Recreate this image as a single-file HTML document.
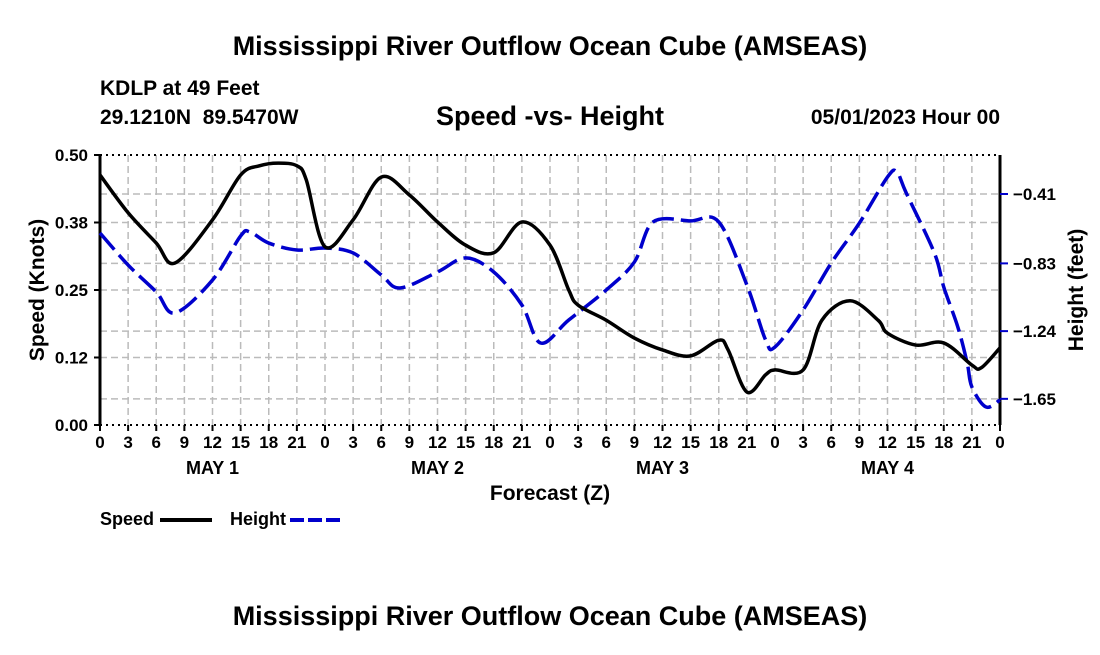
<!DOCTYPE html>
<html><head><meta charset="utf-8"><style>
body{margin:0;background:#fff;}
svg text{font-family:"Liberation Sans",Arial,sans-serif;font-weight:bold;fill:#000;}
</style></head><body>
<svg id="chart" width="1100" height="650" xmlns="http://www.w3.org/2000/svg">
<text x="550" y="55" font-size="27" text-anchor="middle">Mississippi River Outflow Ocean Cube (AMSEAS)</text>
<text x="100" y="95" font-size="21">KDLP at 49 Feet</text>
<text x="100" y="124" font-size="21">29.1210N&#160;&#160;89.5470W</text>
<text x="550" y="125" font-size="27" text-anchor="middle">Speed -vs- Height</text>
<text x="1000" y="124" font-size="21" text-anchor="end">05/01/2023 Hour 00</text>
<g id="grid"></g>
<g id="axes"></g>
<g id="series"></g>
<text x="550" y="500" font-size="21" text-anchor="middle">Forecast (Z)</text>
<text transform="translate(44,290) rotate(-90)" font-size="21" text-anchor="middle">Speed (Knots)</text>
<text transform="translate(1083,290) rotate(-90)" font-size="21" text-anchor="middle">Height (feet)</text>
<g>
<text x="100" y="525" font-size="18">Speed</text>
<line x1="160" y1="520" x2="212" y2="520" stroke="#000" stroke-width="4"/>
<text x="230" y="525" font-size="18">Height</text>
<line x1="290" y1="520" x2="342" y2="520" stroke="#0000cc" stroke-width="4" stroke-dasharray="14,4"/>
</g>
<text x="550" y="625" font-size="27" text-anchor="middle">Mississippi River Outflow Ocean Cube (AMSEAS)</text>
</svg>
<script>
const speedHours=[0,3,6,8,12,15,17,19,21,22,24,27,30,33,36,39,42,45,48,50,51,54,57,60,63,66,67,69,71,72,75,77,80,83,84,87,90,93,94,96];
const speedValues=[.463,.393,.337,.300,.380,.463,.480,.485,.480,.454,.330,.380,.459,.426,.376,.333,.319,.376,.333,.250,.222,.194,.161,.139,.128,.157,.139,.061,.093,.102,.102,.194,.230,.194,.170,.148,.152,.111,.106,.143];
const heightHours=[0,3,6,8,12,15,16,18,21,24,27,30,32,36,39,42,45,47,50,54,57,59,63,66,69,71,72,75,78,81,84,85,86,89,90,91.5,92.5,93,94.5,96];
const heightValues=[-0.646,-0.840,-1.003,-1.130,-0.931,-0.664,-0.640,-0.707,-0.749,-0.737,-0.767,-0.900,-0.979,-0.882,-0.797,-0.882,-1.082,-1.312,-1.173,-0.991,-0.822,-0.579,-0.573,-0.579,-0.961,-1.294,-1.336,-1.112,-0.828,-0.586,-0.307,-0.277,-0.404,-0.767,-0.973,-1.215,-1.433,-1.578,-1.699,-1.657];
const speedTicks=[0,0.125,0.25,0.375,0.5];
const speedTickLabels=["0.00","0.12","0.25","0.38","0.50"];
const heightTicks=[-0.41,-0.83,-1.24,-1.65];
const heightTickLabels=["\u22120.41","\u22120.83","\u22121.24","\u22121.65"];
const hourLabels=["0","3","6","9","12","15","18","21"];
const dayLabels=["MAY 1","MAY 2","MAY 3","MAY 4"];
const X0=100,X1=1000,YT=155,YB=425;
const xs=h=>X0+(X1-X0)*h/96;
const ys=v=>YB-(YB-YT)*v/0.5;
const yh=v=>194+(-0.41-v)*165.2;
const NS="http://www.w3.org/2000/svg";
function mk(tag,attrs,parent){const e=document.createElementNS(NS,tag);for(const k in attrs)e.setAttribute(k,attrs[k]);parent.appendChild(e);return e;}
const grid=document.getElementById('grid'),axes=document.getElementById('axes'),series=document.getElementById('series');
for(let h=3;h<96;h+=3){const l=mk('line',{x1:xs(h),x2:xs(h),y1:YT,y2:YB,stroke:'#bbb','stroke-width':1.5,'stroke-dasharray':'7,4'},grid);

}
const hLines=speedTicks.slice(1,4).map(ys).concat(heightTicks.map(yh));
hLines.forEach(y=>{const l=mk('line',{x1:X0,x2:X1,y1:y,y2:y,stroke:'#bbb','stroke-width':1.5,'stroke-dasharray':'7,4'},grid);

});
[[X0,YT,X1,YT,'2,4'],[X0,YB,X1,YB,'2,4']].forEach(a=>{const l=mk('line',{x1:a[0],y1:a[1],x2:a[2],y2:a[3],stroke:'#000','stroke-width':2,'stroke-dasharray':a[4]},axes);

});
[X0,X1].forEach(x=>{const l=mk('line',{x1:x,y1:YT,x2:x,y2:YB,stroke:'#000','stroke-width':3},axes);

});
speedTicks.forEach((v,i)=>{const y=ys(v);mk('line',{x1:X0-6,x2:X0,y1:y,y2:y,stroke:'#000','stroke-width':2},axes);
const t=mk('text',{x:X0-12,y:y+6,'font-size':17,'text-anchor':'end'},axes);t.textContent=speedTickLabels[i];

});
heightTicks.forEach((v,i)=>{const y=yh(v);mk('line',{x1:X1,x2:X1+8,y1:y,y2:y,stroke:'#0000cc','stroke-width':2},axes);
const t=mk('text',{x:X1+13,y:y+6,'font-size':17},axes);t.textContent=heightTickLabels[i];

});
for(let d=0;d<=4;d++){for(let k=0;k<8;k++){if(d==4&&k>0)break;const h=d*24+k*3;
mk('line',{x1:xs(h),x2:xs(h),y1:YB,y2:YB+6,stroke:'#000','stroke-width':2},axes);
const t=mk('text',{x:xs(h),y:YB+23,'font-size':17,'text-anchor':'middle'},axes);t.textContent=hourLabels[k];

}}
dayLabels.forEach((s,d)=>{const t=mk('text',{x:xs(d*24+12),y:YB+49,'font-size':18,'text-anchor':'middle'},axes);t.textContent=s;

});
function smooth(pts){let d='M'+pts[0][0]+','+pts[0][1];
for(let i=0;i<pts.length-1;i++){const p0=pts[Math.max(i-1,0)],p1=pts[i],p2=pts[i+1],p3=pts[Math.min(i+2,pts.length-1)];
const c1=[p1[0]+(p2[0]-p0[0])/6,p1[1]+(p2[1]-p0[1])/6],c2=[p2[0]-(p3[0]-p1[0])/6,p2[1]-(p3[1]-p1[1])/6];
d+=' C'+c1[0]+','+c1[1]+' '+c2[0]+','+c2[1]+' '+p2[0]+','+p2[1];}return d;}
const hp=mk('path',{d:smooth(heightHours.map((h,i)=>[xs(h),yh(heightValues[i])])),fill:'none',stroke:'#0000cc','stroke-width':3.5,'stroke-dasharray':'22,7'},series);


const sp=mk('path',{d:smooth(speedHours.map((h,i)=>[xs(h),ys(speedValues[i])])),fill:'none',stroke:'#000','stroke-width':3.5},series);


</script>
</body></html>
